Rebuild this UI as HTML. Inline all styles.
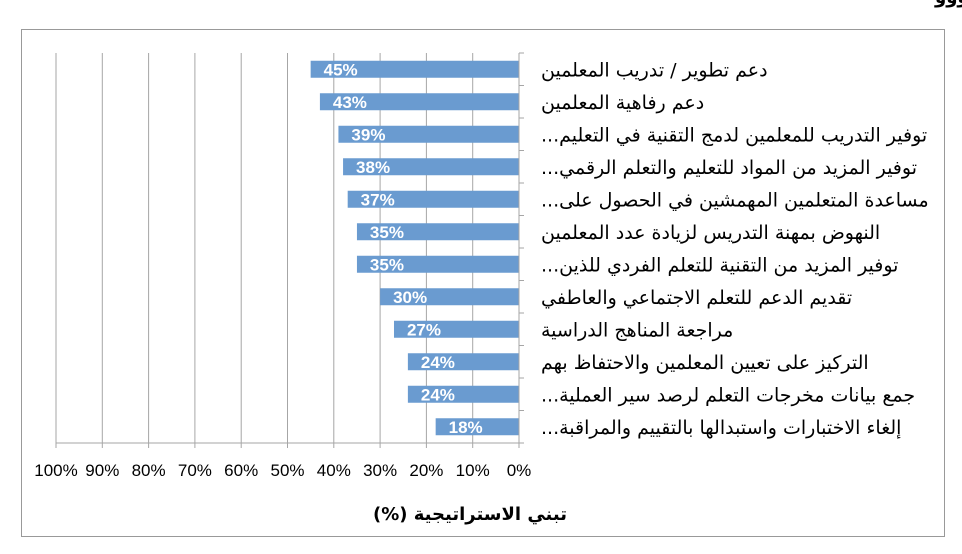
<!DOCTYPE html>
<html><head><meta charset="utf-8"><style>
html,body{margin:0;padding:0;background:#fff;}
svg{display:block;font-family:"Liberation Sans","DejaVu Sans",sans-serif;}
</style></head><body>
<svg id="chart" width="962" height="554" viewBox="0 0 962 554">
<text x="935" y="3" text-anchor="end" font-size="18" font-weight="bold" fill="#000" direction="rtl">ووو</text>
<rect x="21.5" y="29.5" width="923" height="507" fill="#fff" stroke="#999" stroke-width="1"/>
<g id="grid"></g>
<g id="bars"></g>
<g id="axes"></g>
<g id="labels"></g>
<text x="470" y="520" text-anchor="middle" font-size="18" font-weight="bold" direction="rtl" font-family="'DejaVu Sans',sans-serif">تبني الاستراتيجية (%)</text>
</svg>
<script>
const categories = [
"دعم تطوير / تدريب المعلمين",
"دعم رفاهية المعلمين",
"توفير التدريب للمعلمين لدمج التقنية  في التعليم...",
"توفير المزيد من المواد للتعليم والتعلم الرقمي...",
"مساعدة المتعلمين المهمشين في الحصول على...",
"النهوض بمهنة التدريس لزيادة عدد المعلمين",
"توفير المزيد من التقنية للتعلم الفردي للذين...",
"تقديم الدعم للتعلم الاجتماعي والعاطفي",
"مراجعة المناهج الدراسية",
"التركيز على تعيين المعلمين والاحتفاظ بهم",
"جمع بيانات مخرجات التعلم لرصد سير العملية...",
"إلغاء الاختبارات واستبدالها بالتقييم والمراقبة..."
];
const values = [45,43,39,38,37,35,35,30,27,24,24,18];
const tickValues = [0,10,20,30,40,50,60,70,80,90,100];
const tickLabels = ["0%","10%","20%","30%","40%","50%","60%","70%","80%","90%","100%"];

const NS="http://www.w3.org/2000/svg";
const X0=519, X100=56, TOP=53, BOT=443;
const xs=v=>X0+(X100-X0)*v/100;
const band=(BOT-TOP)/categories.length;
const yc=i=>TOP+band*(i+0.5);
function mk(tag,attrs,parent){const e=document.createElementNS(NS,tag);for(const k in attrs)e.setAttribute(k,attrs[k]);parent.appendChild(e);return e;}
const grid=document.getElementById('grid'),bars=document.getElementById('bars'),axes=document.getElementById('axes'),labels=document.getElementById('labels');
tickValues.forEach((v,i)=>{
  if(v>0){const g=mk('line',{x1:xs(v),x2:xs(v),y1:TOP,y2:BOT,stroke:'#a6a6a6','stroke-width':1},grid);
  
  }
  const t=mk('line',{x1:xs(v),x2:xs(v),y1:BOT,y2:BOT+5,stroke:'#a6a6a6','stroke-width':1},axes);
  
  
  const l=mk('text',{x:xs(v),y:476,'text-anchor':'middle','font-size':17,fill:'#000'},axes);
  l.textContent=tickLabels[i];
  
  
});
const xa=mk('line',{x1:X100,x2:X0,y1:BOT,y2:BOT,stroke:'#a6a6a6','stroke-width':1},axes);


const ya=mk('line',{x1:X0,x2:X0,y1:TOP,y2:BOT,stroke:'#a6a6a6','stroke-width':1},axes);


for(let i=0;i<=categories.length;i++){
  const t=mk('line',{x1:X0,x2:X0+5,y1:TOP+band*i,y2:TOP+band*i,stroke:'#a6a6a6','stroke-width':1},axes);
  
  
}
categories.forEach((c,i)=>{
  const v=values[i];
  const r=mk('rect',{x:xs(v),y:yc(i)-8.5,width:X0-xs(v),height:17,fill:'#6a9bd0'},bars);
  
  
  const vl=mk('text',{x:xs(v)+30,y:yc(i)+6,'text-anchor':'middle','font-size':17,'font-weight':'bold',fill:'#fff'},bars);
  vl.textContent=v+'%';
  
  
  const cl=mk('text',{x:541,y:yc(i)+7,'text-anchor':'end','font-size':19,direction:'rtl','font-family':"'DejaVu Sans',sans-serif",fill:'#000'},labels);
  cl.textContent=c;
  
  
});
</script>
</body></html>
